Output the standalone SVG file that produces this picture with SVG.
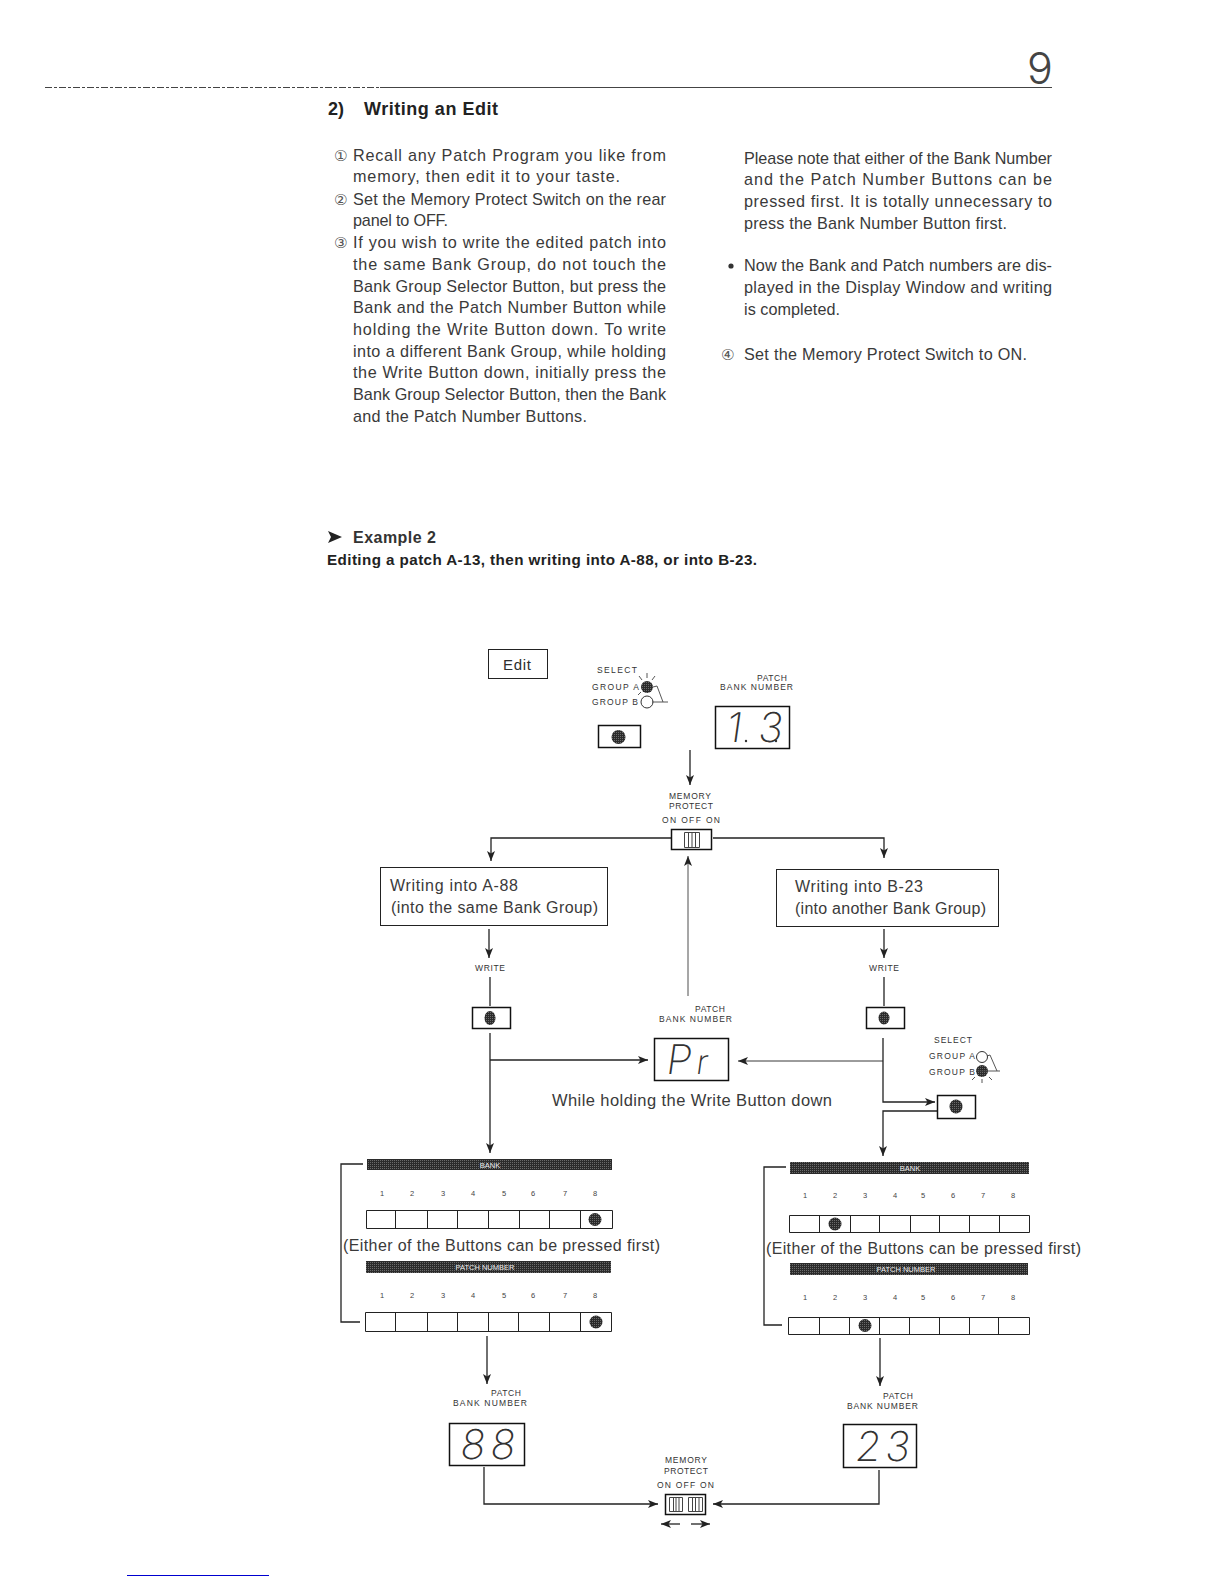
<svg xmlns="http://www.w3.org/2000/svg" width="1224" height="1584" viewBox="0 0 1224 1584">
<style>
text{font-family:"Liberation Sans",Arial,sans-serif;fill:#2e2e2e}
.b{font-size:16.2px;fill:#3a3a3a}
.h{font-size:18px;font-weight:bold;fill:#222}
.big{font-size:16px;fill:#3a3a3a}
.s{font-size:8.5px;fill:#333}
.bt{font-size:7.5px;fill:#eee;text-anchor:middle}
.n{font-size:7.5px;text-anchor:middle;fill:#444}
.c{font-family:"DejaVu Sans","Noto Sans",sans-serif;font-size:15px;fill:#555}
.seg{font-family:"Inter","Liberation Sans",sans-serif;font-weight:200;font-size:41px;fill:#333}
.box{fill:#fff;stroke:#222;stroke-width:1}
.btn{fill:#fff;stroke:#111;stroke-width:1.5}
.row{fill:#fff;stroke:#222;stroke-width:1}
.dot{fill:url(#ht)}
.bar{fill:url(#ht)}
.c1{fill:none;stroke:#222;stroke-width:1.3}
.c2{fill:none;stroke:#222;stroke-width:1.3;marker-end:url(#ah)}
.thin{fill:none;stroke:#444;stroke-width:1}
.ray{stroke:#444;stroke-width:.9;fill:none}
</style>
<defs>
<pattern id="ht" width="2" height="2" patternUnits="userSpaceOnUse"><rect width="2" height="2" fill="#2b2b2b"/><rect width="1" height="1" fill="#6a6a6a"/></pattern>
<marker id="ah" markerUnits="userSpaceOnUse" markerWidth="12" markerHeight="10" refX="10" refY="4" orient="auto"><path d="M0,0L10,4L0,8L2.5,4Z" fill="#222"/></marker>
</defs>
<rect width="1224" height="1584" fill="#fff"/>

<g id="page-header">
<path class="thin" stroke-dasharray="7 2 3 2" d="M45 87.500H380"/>
<path class="thin" d="M380 87.500H1052"/>
<text x="1040" y="84" text-anchor="middle" style="font-family:Inter,'Liberation Sans',sans-serif;font-weight:300;font-size:43px;fill:#444">9</text>
<text class="h" x="328" y="115">2)</text>
<text class="h" x="364" y="115" textLength="134">Writing an Edit</text>
</g>

<g id="left-column">
<text class="c" x="334" y="161">①</text>
<text class="b" x="353" y="161" textLength="313">Recall any Patch Program you like from</text>
<text class="b" x="353" y="182" textLength="267">memory, then edit it to your taste.</text>
<text class="c" x="334" y="205">②</text>
<text class="b" x="353" y="205" textLength="313">Set the Memory Protect Switch on the rear</text>
<text class="b" x="353" y="226" textLength="95">panel to OFF.</text>
<text class="c" x="334" y="248">③</text>
<text class="b" x="353" y="248" textLength="313">If you wish to write the edited patch into</text>
<text class="b" x="353" y="270" textLength="313">the same Bank Group, do not touch the</text>
<text class="b" x="353" y="292" textLength="313">Bank Group Selector Button, but press the</text>
<text class="b" x="353" y="313" textLength="313">Bank and the Patch Number Button while</text>
<text class="b" x="353" y="335" textLength="313">holding the Write Button down. To write</text>
<text class="b" x="353" y="357" textLength="313">into a different Bank Group, while holding</text>
<text class="b" x="353" y="378" textLength="313">the Write Button down, initially press the</text>
<text class="b" x="353" y="400" textLength="313">Bank Group Selector Button, then the Bank</text>
<text class="b" x="353" y="422" textLength="234">and the Patch Number Buttons.</text>
</g>

<g id="right-column">
<text class="b" x="744" y="164" textLength="308">Please note that either of the Bank Number</text>
<text class="b" x="744" y="185" textLength="308">and the Patch Number Buttons can be</text>
<text class="b" x="744" y="207" textLength="308">pressed first. It is totally unnecessary to</text>
<text class="b" x="744" y="229" textLength="263">press the Bank Number Button first.</text>
<circle cx="731" cy="266" r="2.600" fill="#333"/>
<text class="b" x="744" y="271" textLength="308">Now the Bank and Patch numbers are dis-</text>
<text class="b" x="744" y="293" textLength="308">played in the Display Window and writing</text>
<text class="b" x="744" y="315" textLength="96">is completed.</text>
<text class="c" x="721" y="360">④</text>
<text class="b" x="744" y="360" textLength="283">Set the Memory Protect Switch to ON.</text>
</g>

<g id="example-title">
<path d="M328 531L342 537L328 543L331 537Z" fill="#222"/>
<text x="353" y="543" textLength="83" style="font-size:16px;font-weight:bold;fill:#333">Example 2</text>
<text x="327" y="565" textLength="430" style="font-size:15.200px;font-weight:bold;fill:#222">Editing a patch A-13, then writing into A-88, or into B-23.</text>
</g>

<g id="connectors">
<path class="c2" d="M690 750V785"/>
<path class="c2" d="M671 838H491V861"/>
<path class="c2" d="M713 838H884V858"/>
<path class="c2" d="M489 929V958"/>
<path class="c2" d="M884 929V958"/>
<path class="c1" d="M490 977V1006"/>
<path class="c1" d="M884 977V1006"/>
<path class="c2" style="stroke-width:.8" d="M688 996V856"/>
<path class="c2" d="M490 1033V1153"/>
<path class="c2" d="M490 1060H648"/>
<path class="c2" style="stroke-width:.9" d="M883 1061H738"/>
<path class="c2" d="M883 1038V1102H935"/>
<path class="c2" d="M937 1111H883V1156"/>
<path class="c1" d="M363 1164H341V1322H360"/>
<path class="c1" d="M786 1167H764V1325H782"/>
<path class="c2" d="M487 1336V1384"/>
<path class="c2" d="M880 1338V1386"/>
<path class="c2" d="M484 1467V1504H658"/>
<path class="c2" d="M879 1470V1504H713"/>
<path class="c2" d="M680 1524H661"/>
<path class="c2" d="M691 1524H710"/>
</g>

<g id="edit-box">
<rect class="box" x="488.500" y="649.500" width="59" height="29"/>
<text x="503" y="670" textLength="28" style="font-size:15px">Edit</text>
</g>

<g id="select-a">
<text class="s" x="597" y="673" textLength="40">SELECT</text>
<text class="s" x="592" y="690" textLength="47">GROUP A</text>
<text class="s" x="592" y="705" textLength="46">GROUP B</text>
<circle class="dot" cx="647" cy="687" r="6"/>
<circle cx="647" cy="702" r="6" fill="#fff" stroke="#333"/>
<path class="ray" d="M647 673V678M639 676L642 680M655 676L652 680M638 695L641 692"/>
<path class="ray" d="M653 687L657 686L663 702M652 702H668"/>
</g>
<g id="select-a-button">
<rect class="btn" x="598.500" y="725.500" width="42" height="22"/>
<circle class="dot" cx="618.500" cy="737" r="7"/>
</g>

<g id="display-13">
<text class="s" x="757" y="681" textLength="30">PATCH</text>
<text class="s" x="720" y="690" textLength="73">BANK NUMBER</text>
<rect class="btn" x="715.500" y="706.500" width="74" height="42"/>
<text class="seg" transform="translate(725 742) skewX(-8)">1</text>
<circle cx="746" cy="741" r="1.200" fill="#333"/>
<text class="seg" transform="translate(757 742) skewX(-8)">3</text>
<circle cx="776" cy="741" r="1.200" fill="#333"/>
</g>

<g id="memory-switch-top">
<text class="s" x="669" y="799" textLength="42">MEMORY</text>
<text class="s" x="669" y="809" textLength="44">PROTECT</text>
<text class="s" x="662" y="823" textLength="58">ON OFF ON</text>
<rect class="btn" x="671.500" y="829.500" width="40" height="20"/>
<path class="thin" d="M684.500 832.500H699.500V847.500H684.500ZM688.500 832.500V847.500M692 832.500V847.500M695.500 832.500V847.500"/>
</g>

<g id="box-a88">
<rect class="box" x="380.500" y="867.500" width="227" height="58"/>
<text class="big" x="390" y="891" textLength="128">Writing into A-88</text>
<text class="big" x="391" y="913" textLength="207">(into the same Bank Group)</text>
</g>

<g id="box-b23">
<rect class="box" x="776.500" y="869.500" width="222" height="57"/>
<text class="big" x="795" y="892" textLength="128">Writing into B-23</text>
<text class="big" x="795" y="914" textLength="191">(into another Bank Group)</text>
</g>

<g id="write-left">
<text class="s" x="475" y="971" textLength="30">WRITE</text>
<rect class="btn" x="472.500" y="1007.500" width="38" height="21"/>
<ellipse class="dot" cx="490" cy="1018" rx="5.500" ry="7"/>
</g>
<g id="write-right">
<text class="s" x="869" y="971" textLength="30">WRITE</text>
<rect class="btn" x="866.500" y="1007.500" width="38" height="21"/>
<ellipse class="dot" cx="884" cy="1018" rx="5.500" ry="6.500"/>
</g>

<g id="display-pr">
<text class="s" x="695" y="1012" textLength="30">PATCH</text>
<text class="s" x="659" y="1022" textLength="73">BANK NUMBER</text>
<rect class="btn" x="654.500" y="1038.500" width="74" height="42"/>
<text class="seg" transform="translate(665 1074) skewX(-8)">P</text>
<text class="seg" style="font-size:34px" transform="translate(695 1074) skewX(-8)">r</text>
</g>

<text id="hold-label" x="552" y="1106" textLength="280" style="font-size:16.500px;fill:#3a3a3a">While holding the Write Button down</text>

<g id="select-b">
<text class="s" x="934" y="1043" textLength="38">SELECT</text>
<text class="s" x="929" y="1059" textLength="46">GROUP A</text>
<text class="s" x="929" y="1075" textLength="46">GROUP B</text>
<circle cx="982" cy="1057" r="5.500" fill="#fff" stroke="#333"/>
<circle class="dot" cx="982" cy="1071" r="6"/>
<path class="ray" d="M987 1056L990 1055L997 1071M976 1071H1000M982 1079V1083M975 1077L972 1080M989 1077L992 1080"/>
</g>
<g id="select-b-button">
<rect class="btn" x="937.500" y="1095.500" width="38" height="23"/>
<ellipse class="dot" cx="956" cy="1106.500" rx="6.500" ry="7"/>
</g>

<g id="panel-left">
<rect class="bar" x="367" y="1159" width="245" height="11"/>
<text class="bt" x="490" y="1167.500">BANK</text>
<g class="nums"><text class="n" x="382" y="1196">1</text><text class="n" x="412" y="1196">2</text><text class="n" x="443" y="1196">3</text><text class="n" x="473" y="1196">4</text><text class="n" x="504" y="1196">5</text><text class="n" x="533" y="1196">6</text><text class="n" x="565" y="1196">7</text><text class="n" x="595" y="1196">8</text></g>
<path class="row" d="M366.500 1210.500H612.500V1228.500H366.500ZM395.500 1210.500V1228.500M427.500 1210.500V1228.500M457.500 1210.500V1228.500M488.500 1210.500V1228.500M519.500 1210.500V1228.500M549.500 1210.500V1228.500M580.500 1210.500V1228.500"/>
<circle class="dot" cx="595" cy="1219.500" r="6.500"/>
<text class="big" x="343" y="1251" textLength="317">(Either of the Buttons can be pressed first)</text>
<rect class="bar" x="366" y="1261" width="245" height="12"/>
<text class="bt" x="485" y="1269.500">PATCH NUMBER</text>
<g class="nums"><text class="n" x="382" y="1298">1</text><text class="n" x="412" y="1298">2</text><text class="n" x="443" y="1298">3</text><text class="n" x="473" y="1298">4</text><text class="n" x="504" y="1298">5</text><text class="n" x="533" y="1298">6</text><text class="n" x="565" y="1298">7</text><text class="n" x="595" y="1298">8</text></g>
<path class="row" d="M365.500 1312.500H611.500V1331.500H365.500ZM395.500 1312.500V1331.500M427.500 1312.500V1331.500M457.500 1312.500V1331.500M488.500 1312.500V1331.500M518.500 1312.500V1331.500M549.500 1312.500V1331.500M580.500 1312.500V1331.500"/>
<circle class="dot" cx="596" cy="1322" r="6.500"/>
</g>

<g id="panel-right">
<rect class="bar" x="790" y="1162" width="239" height="12"/>
<text class="bt" x="910" y="1170.500">BANK</text>
<g class="nums"><text class="n" x="805" y="1198">1</text><text class="n" x="835" y="1198">2</text><text class="n" x="865" y="1198">3</text><text class="n" x="895" y="1198">4</text><text class="n" x="923" y="1198">5</text><text class="n" x="953" y="1198">6</text><text class="n" x="983" y="1198">7</text><text class="n" x="1013" y="1198">8</text></g>
<path class="row" d="M789.500 1215.500H1029.500V1232.500H789.500ZM819.500 1215.500V1232.500M850.500 1215.500V1232.500M879.500 1215.500V1232.500M910.500 1215.500V1232.500M939.500 1215.500V1232.500M969.500 1215.500V1232.500M999.500 1215.500V1232.500"/>
<circle class="dot" cx="835" cy="1224" r="6.500"/>
<text class="big" x="766" y="1254" textLength="315">(Either of the Buttons can be pressed first)</text>
<rect class="bar" x="790" y="1263" width="238" height="12"/>
<text class="bt" x="906" y="1271.500">PATCH NUMBER</text>
<g class="nums"><text class="n" x="805" y="1300">1</text><text class="n" x="835" y="1300">2</text><text class="n" x="865" y="1300">3</text><text class="n" x="895" y="1300">4</text><text class="n" x="923" y="1300">5</text><text class="n" x="953" y="1300">6</text><text class="n" x="983" y="1300">7</text><text class="n" x="1013" y="1300">8</text></g>
<path class="row" d="M788.500 1317.500H1029.500V1334.500H788.500ZM819.500 1317.500V1334.500M849.500 1317.500V1334.500M879.500 1317.500V1334.500M909.500 1317.500V1334.500M939.500 1317.500V1334.500M969.500 1317.500V1334.500M998.500 1317.500V1334.500"/>
<circle class="dot" cx="865" cy="1325.500" r="6.500"/>
</g>

<g id="display-88">
<text class="s" x="491" y="1396" textLength="30">PATCH</text>
<text class="s" x="453" y="1406" textLength="74">BANK NUMBER</text>
<rect class="btn" x="449.500" y="1423.500" width="75" height="42"/>
<text class="seg" transform="translate(459 1459) skewX(-8)">8</text>
<text class="seg" transform="translate(489 1459) skewX(-8)">8</text>
</g>

<g id="display-23">
<text class="s" x="883" y="1399" textLength="30">PATCH</text>
<text class="s" x="847" y="1409" textLength="71">BANK NUMBER</text>
<rect class="btn" x="843.500" y="1424.500" width="73" height="43"/>
<text class="seg" transform="translate(854 1461) skewX(-8)">2</text>
<text class="seg" transform="translate(884 1461) skewX(-8)">3</text>
</g>

<g id="memory-switch-bottom">
<text class="s" x="665" y="1463" textLength="42">MEMORY</text>
<text class="s" x="664" y="1474" textLength="44">PROTECT</text>
<text class="s" x="657" y="1488" textLength="57">ON OFF ON</text>
<rect class="btn" x="665.500" y="1494.500" width="40" height="20"/>
<path class="thin" d="M669.500 1497.500H682.500V1511.500H669.500ZM673.500 1497.500V1511.500M676 1497.500V1511.500M679 1497.500V1511.500M688.500 1497.500H702.500V1511.500H688.500ZM692.500 1497.500V1511.500M695.500 1497.500V1511.500M699 1497.500V1511.500"/>
</g>

<path id="page-edge" d="M127 1575.500H269" stroke="#0000d0" stroke-width="1" fill="none"/>
</svg>
